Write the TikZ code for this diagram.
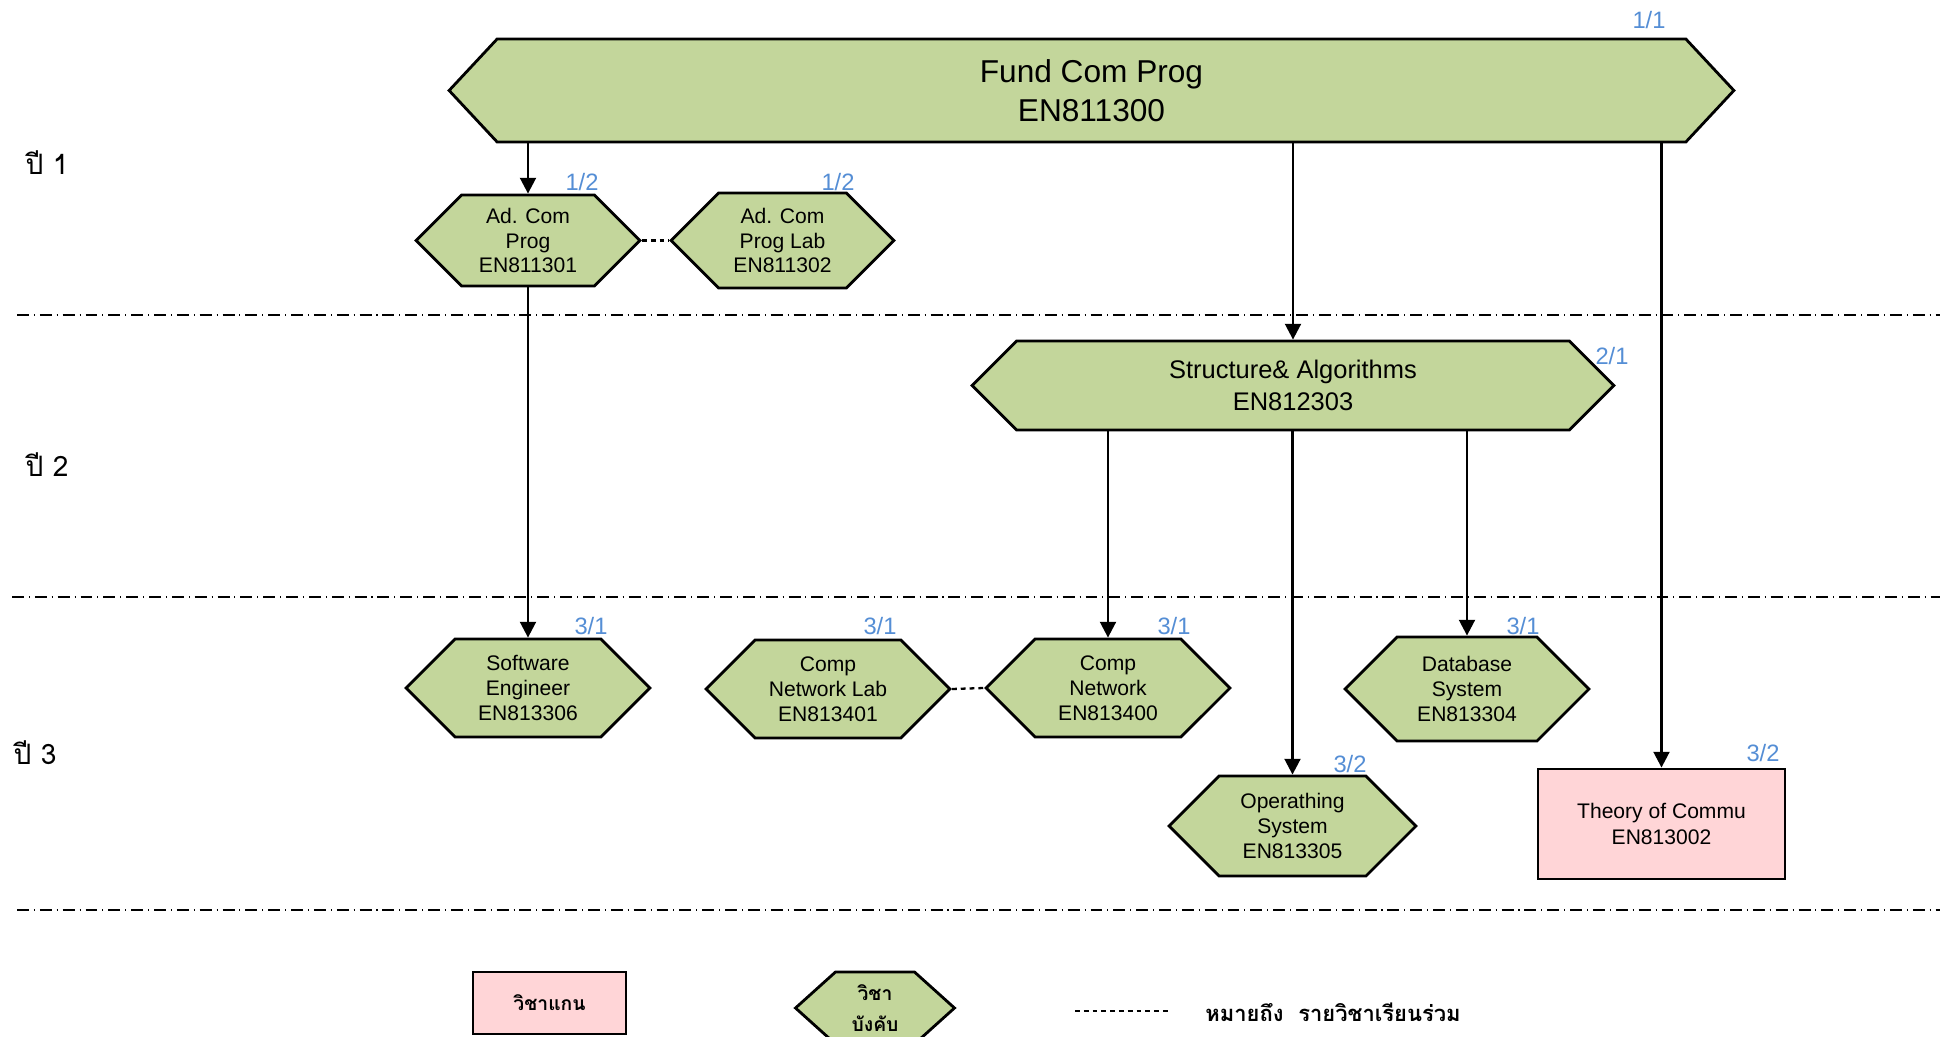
\documentclass[tikz,border=0pt]{standalone}
\usepackage{fontspec}
\setmainfont{Liberation Sans}
\newfontfamily\thaifont[Script=Thai]{Loma}
\usetikzlibrary{shapes.symbols,arrows.meta,positioning}

\definecolor{coursegreen}{HTML}{C3D69B}
\definecolor{corepink}{HTML}{FFD5D7}
\definecolor{termblue}{HTML}{558ED5}

\tikzset{
  course/.style={signal, signal to=west and east, signal pointer angle=90,
    draw, fill=coursegreen, line width=1.6pt, inner sep=1pt, align=center,
    font=\fontsize{12}{14.2}\selectfont},
  core/.style={rectangle, draw, fill=corepink, line width=1.6pt, inner sep=1pt,
    align=center, font=\fontsize{12}{14.6}\selectfont},
  term/.style={text=termblue, inner sep=0pt, font=\fontsize{13.5}{15}\selectfont},
  prereq/.style={line width=1.5pt, -{Triangle[length=9pt,width=9pt]}},
  corun/.style={line width=1.3pt, dash pattern=on 2.8pt off 2.2pt},
  yearline/.style={line width=1.1pt, dash pattern=on 6.8pt off 2.8pt on 0.6pt off 2.8pt},
  yearlabel/.style={inner sep=0pt, font=\thaifont\fontsize{16}{18}\selectfont},
  legendtext/.style={inner sep=0pt, font=\thaifont\bfseries\fontsize{12.5}{17.6}\selectfont}
}

\begin{document}
\begin{tikzpicture}[x=0.02cm,y=-0.02cm]
\useasboundingbox (0,0) rectangle (1952,1037);

% year separators
\draw[yearline] (17,315) -- (1940,315);
\draw[yearline] (12,597) -- (1940,597);
\draw[yearline] (17,910) -- (1940,910);

% year labels
\node[yearlabel] (y1) at (47,163) {ปี 1};
\node[yearlabel] (y2) at (47,465) {ปี 2};
\node[yearlabel] (y3) at (35,753) {ปี 3};

% year 1
\node[course, minimum width=25.7cm, minimum height=2.06cm, signal pointer angle=94,
  font=\fontsize{18}{21.9}\selectfont] (fund) at (1091.5,90.5) {Fund Com Prog\\EN811300};
\node[course, minimum width=4.48cm, minimum height=1.82cm] (adcom) at (528,240.5) {Ad. Com\\Prog\\EN811301};
\node[course, minimum width=4.46cm, minimum height=1.9cm] (adlab) at (782.5,240.5) {Ad. Com\\Prog Lab\\EN811302};

% year 2
\node[course, minimum width=12.84cm, minimum height=1.78cm,
  font=\fontsize{14.5}{18}\selectfont] (struct) at (1293,385.5) {Structure\& Algorithms\\EN812303};

% year 3
\node[course, minimum width=4.88cm, minimum height=1.96cm] (se) at (528,688) {Software\\Engineer\\EN813306};
\node[course, minimum width=4.88cm, minimum height=1.96cm] (cnl) at (828,689) {Comp\\Network Lab\\EN813401};
\node[course, minimum width=4.88cm, minimum height=1.96cm] (cn) at (1108,688) {Comp\\Network\\EN813400};
\node[course, minimum width=4.88cm, minimum height=2.08cm] (db) at (1467,689) {Database\\System\\EN813304};
\node[course, minimum width=4.94cm, minimum height=2cm] (os) at (1292.5,826) {Operathing\\System\\EN813305};
\node[core, minimum width=4.94cm, minimum height=2.2cm] (theory) at (1661.5,824) {Theory of Commu\\EN813002};

% terms
\node[term] (t-fund) at (1649,20) {1/1};
\node[term] (t-adcom) at (582,182) {1/2};
\node[term] (t-adlab) at (838,182) {1/2};
\node[term] (t-struct) at (1612,356) {2/1};
\node[term] (t-se) at (591,626) {3/1};
\node[term] (t-cnl) at (880,626) {3/1};
\node[term] (t-cn) at (1174,626) {3/1};
\node[term] (t-db) at (1523,626) {3/1};
\node[term] (t-os) at (1350,764) {3/2};
\node[term] (t-theory) at (1763,753) {3/2};

% prerequisites
\draw[prereq] (adcom.north |- fund.south) -- (adcom.north);
\draw[prereq] (struct.north |- fund.south) -- (struct.north);
\draw[prereq] (theory.north |- fund.south) -- (theory.north);
\draw[prereq] (adcom.south) -- (se.north);
\draw[prereq] (cn.north |- struct.south) -- (cn.north);
\draw[prereq] (os.north |- struct.south) -- (os.north);
\draw[prereq] (db.north |- struct.south) -- (db.north);

% taken together
\draw[corun] (adcom.east) -- (adlab.west);
\draw[corun] (cnl.east) -- (cn.west);

% legend
\node[core, minimum width=3.06cm, minimum height=1.24cm, font=\thaifont\bfseries\fontsize{11}{13}\selectfont] (lg-core) at (549.5,1003) {วิชาแกน};
\node[course, minimum width=3.18cm, minimum height=1.44cm, signal pointer angle=84,
  font=\thaifont\bfseries\fontsize{11}{17.6}\selectfont] (lg-course) at (875,1008) {วิชา\\บังคับ};
\coordinate (lg-a) at (1075,1011);
\coordinate (lg-b) at (1168,1011);
\draw[corun] (lg-a) -- (lg-b);
\node[legendtext, anchor=west] (lg-text) at (1205,1012) {หมายถึง\ \ รายวิชาเรียนร่วม};
\end{tikzpicture}
\end{document}
